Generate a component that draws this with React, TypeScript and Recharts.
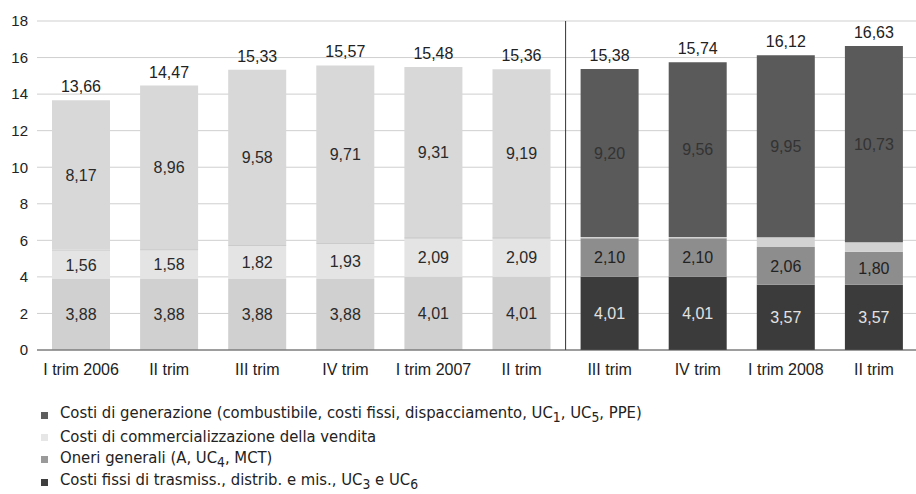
import React from "react";
import {
  BarChart,
  Bar,
  XAxis,
  YAxis,
  CartesianGrid,
  Cell,
  LabelList,
  ReferenceLine,
  Legend,
} from "recharts";

const categorie = [
  "I trim 2006",
  "II trim",
  "III trim",
  "IV trim",
  "I trim 2007",
  "II trim",
  "III trim",
  "IV trim",
  "I trim 2008",
  "II trim",
];
const chiavi = ["q1_06", "q2_06", "q3_06", "q4_06", "q1_07", "q2_07", "q3_07", "q4_07", "q1_08", "q2_08"];

const trasmissione = [3.88, 3.88, 3.88, 3.88, 4.01, 4.01, 4.01, 4.01, 3.57, 3.57];
const oneri = [1.56, 1.58, 1.82, 1.93, 2.09, 2.09, 2.1, 2.1, 2.06, 1.8];
const commercializzazione = [0.05, 0.05, 0.05, 0.05, 0.07, 0.07, 0.07, 0.07, 0.54, 0.53];
const generazione = [8.17, 8.96, 9.58, 9.71, 9.31, 9.19, 9.2, 9.56, 9.95, 10.73];
const totali = [13.66, 14.47, 15.33, 15.57, 15.48, 15.36, 15.38, 15.74, 16.12, 16.63];

const yTicks = [0, 2, 4, 6, 8, 10, 12, 14, 16, 18];

// i primi 6 trimestri sono "sbiaditi", gli ultimi 4 pieni
const N_CHIARI = 6;

const colori = {
  trasmissione: { chiaro: "#d0d0d0", scuro: "#3b3b3b" },
  oneri: { chiaro: "#e4e4e4", scuro: "#8d8d8d" },
  commercializzazione: { chiaro: "#bcbcbc", scuro: "#d2d2d2" },
  generazione: { chiaro: "#d8d8d8", scuro: "#5a5a5a" },
};

const coloriLabel = {
  trasmissione: { chiaro: "#2a2a2a", scuro: "#e2e2e2" },
  oneri: { chiaro: "#2a2a2a", scuro: "#222222" },
  generazione: { chiaro: "#2a2a2a", scuro: "#333333" },
};

const legenda = [
  { colore: "#5e5e5e", testo: <>Costi di generazione (combustibile, costi fissi, dispacciamento, UC<sub>1</sub>, UC<sub>5</sub>, PPE)</> },
  { colore: "#e6e6e6", testo: <>Costi di commercializzazione della vendita</> },
  { colore: "#9a9a9a", testo: <>Oneri generali (A, UC<sub>4</sub>, MCT)</> },
  { colore: "#3e3e3e", testo: <>Costi fissi di trasmiss., distrib. e mis., UC<sub>3</sub> e UC<sub>6</sub></> },
];

const dati = chiavi.map((id, i) => ({
  id,
  trasmissione: trasmissione[i],
  oneri: oneri[i],
  commercializzazione: commercializzazione[i],
  generazione: generazione[i],
  totale: totali[i],
}));

function fmt(v: number) {
  return v.toFixed(2).replace(".", ",");
}

const FONT = "'Liberation Sans', Arial, sans-serif";

function labelInterna(serie: keyof typeof coloriLabel) {
  return (props: any) => {
    const { x, y, width, height, value, index } = props;
    const fill = index < N_CHIARI ? coloriLabel[serie].chiaro : coloriLabel[serie].scuro;
    return (
      <text
        x={x + width / 2}
        y={y + height / 2}
        dy="0.36em"
        textAnchor="middle"
        fontSize={16}
        fontFamily={FONT}
        fill={fill}
      >
        {fmt(Number(value))}
      </text>
    );
  };
}

function labelTotale(props: any) {
  const { x, y, width, value } = props;
  return (
    <text x={x + width / 2} y={y - 8} textAnchor="middle" fontSize={16} fontFamily={FONT} fill="#222">
      {fmt(Number(value))}
    </text>
  );
}

function Legenda() {
  return (
    <div style={{ fontFamily: "'Liberation Sans Narrow', 'DejaVu Sans Condensed', sans-serif", fontSize: 16.5, color: "#222" }}>
      {legenda.map((l, i) => (
        <div key={i} style={{ display: "flex", alignItems: "center", height: 22.3, lineHeight: "22px" }}>
          <span style={{ display: "inline-block", width: 7, height: 7, background: l.colore, marginRight: 12 }} />
          <span>{l.testo}</span>
        </div>
      ))}
    </div>
  );
}

export default function App() {
  return (
    <div style={{ position: "absolute", left: 0, top: 0, width: 916, height: 494, overflow: "hidden", background: "#fff" }}>
      <BarChart
        width={918}
        height={494}
        data={dati}
        margin={{ top: 21, right: 0, left: 0, bottom: 114 }}
        barSize={58}
      >
        <CartesianGrid vertical={false} stroke="#cfcfcf" />
        <XAxis
          dataKey="id"
          tickFormatter={(_v, i) => categorie[i]}
          tick={{ fontSize: 16, fill: "#222", fontFamily: FONT }}
          axisLine={{ stroke: "#555" }}
          tickLine={false}
          tickSize={0}
          tickMargin={14}
          height={30}
          interval={0}
        />
        <YAxis
          domain={[0, 18]}
          ticks={yTicks}
          width={37}
          tick={{ fontSize: 15, fill: "#222", fontFamily: FONT }}
          axisLine={false}
          tickLine={false}
          tickSize={0}
          tickMargin={9}
          interval={0}
        />
        <ReferenceLine x="q2_07" position="end" stroke="#333" strokeWidth={1} />
        <Bar dataKey="trasmissione" stackId="a" isAnimationActive={false}>
          {dati.map((_, i) => (
            <Cell key={i} fill={i < N_CHIARI ? colori.trasmissione.chiaro : colori.trasmissione.scuro} />
          ))}
          <LabelList dataKey="trasmissione" content={labelInterna("trasmissione")} />
        </Bar>
        <Bar dataKey="oneri" stackId="a" isAnimationActive={false}>
          {dati.map((_, i) => (
            <Cell key={i} fill={i < N_CHIARI ? colori.oneri.chiaro : colori.oneri.scuro} />
          ))}
          <LabelList dataKey="oneri" content={labelInterna("oneri")} />
        </Bar>
        <Bar dataKey="commercializzazione" stackId="a" isAnimationActive={false}>
          {dati.map((_, i) => (
            <Cell key={i} fill={i < N_CHIARI ? colori.commercializzazione.chiaro : colori.commercializzazione.scuro} />
          ))}
        </Bar>
        <Bar dataKey="generazione" stackId="a" isAnimationActive={false}>
          {dati.map((_, i) => (
            <Cell key={i} fill={i < N_CHIARI ? colori.generazione.chiaro : colori.generazione.scuro} />
          ))}
          <LabelList dataKey="generazione" content={labelInterna("generazione")} />
          <LabelList dataKey="totale" content={labelTotale} />
        </Bar>
        <Legend
          layout="horizontal"
          verticalAlign="middle"
          align="center"
          content={() => <Legenda />}
          wrapperStyle={{ top: 404, left: 41, width: 760, height: 90 }}
        />
      </BarChart>
    </div>
  );
}
